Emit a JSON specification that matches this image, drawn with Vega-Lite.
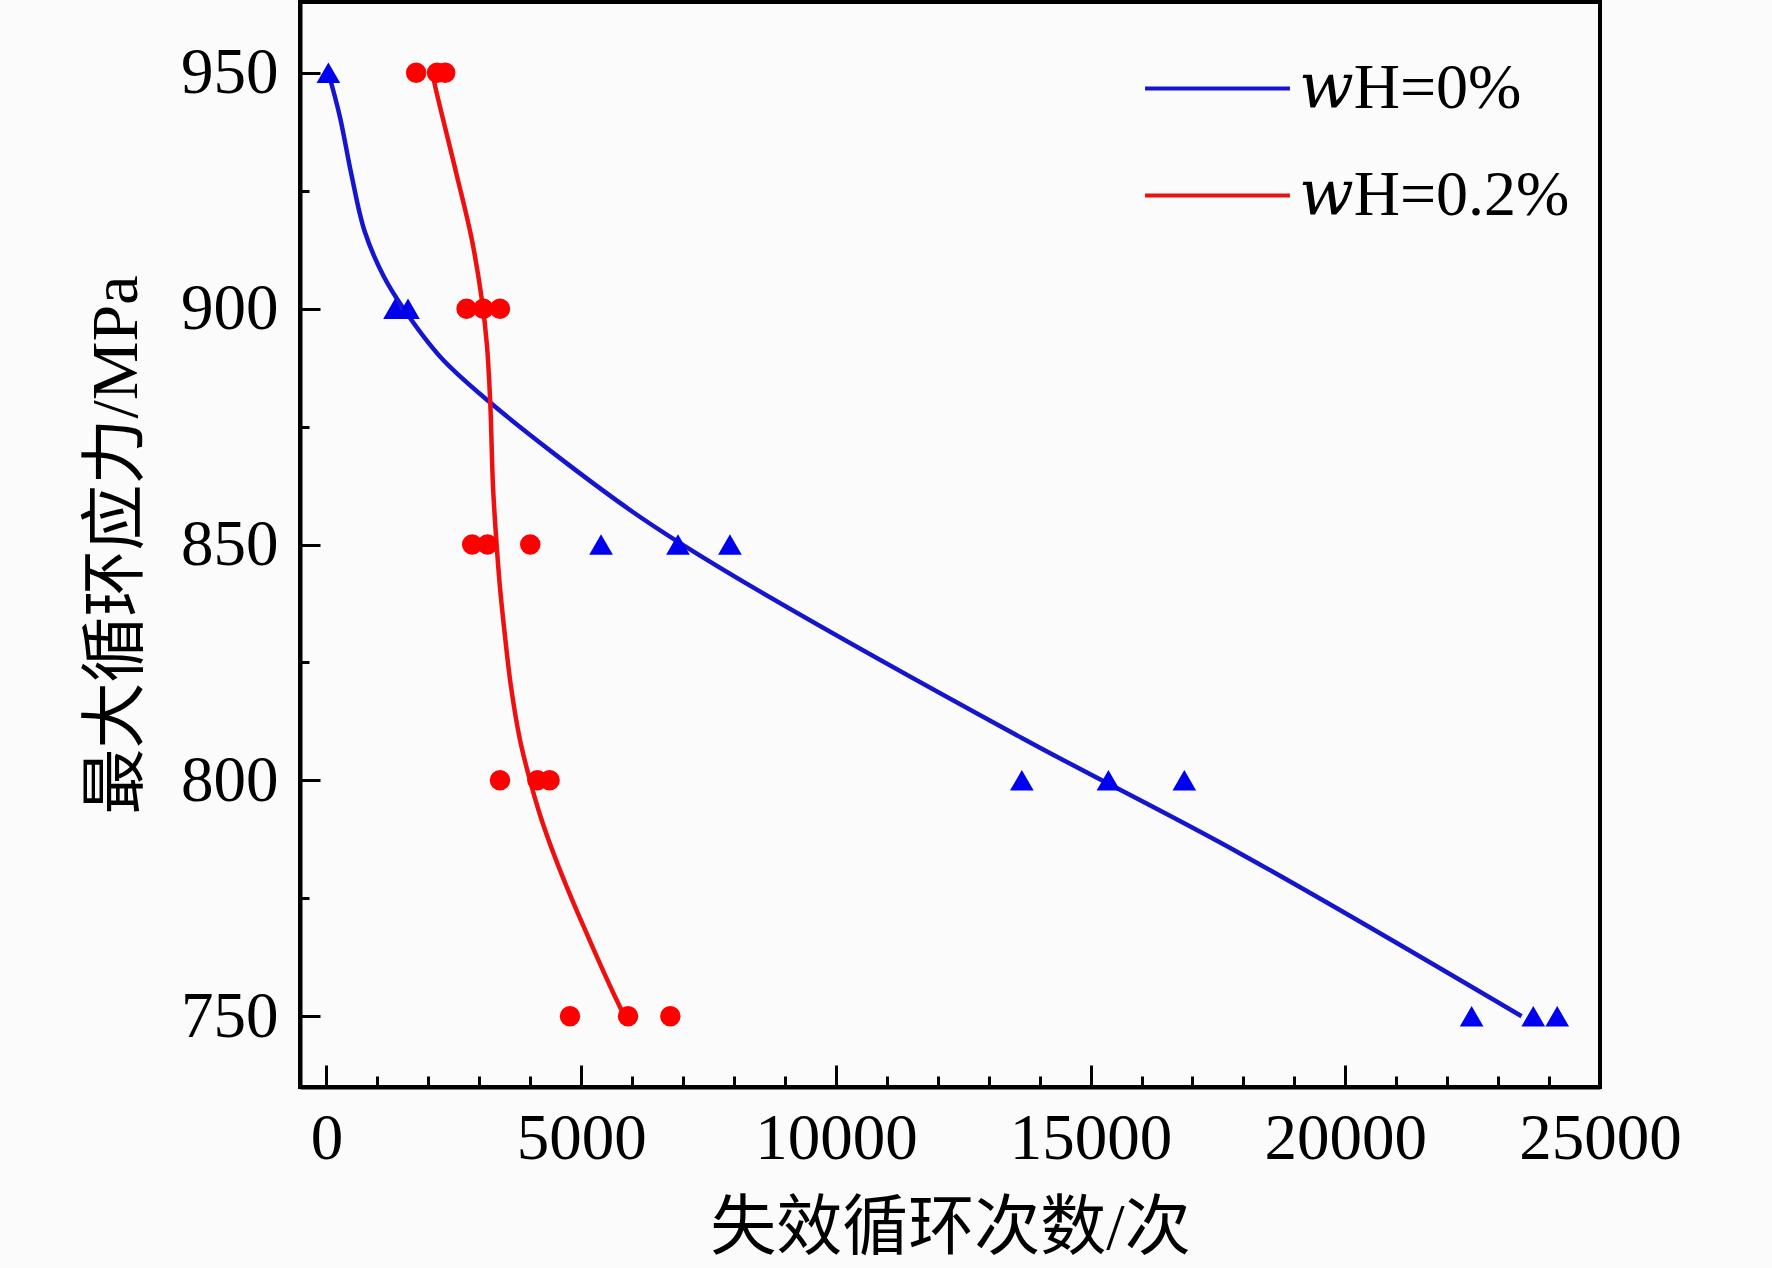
{
  "$schema": "https://vega.github.io/schema/vega-lite/v6.json",
  "autosize": "none",
  "width": 1300,
  "height": 1085,
  "padding": {"left": 300, "top": 2, "right": 172, "bottom": 181},
  "background": "#fbfbfb",
  "config": {
    "view": {"stroke": "#000000", "strokeWidth": 4},
    "axis": {
      "labelFont": "Liberation Serif",
      "labelFontSize": 65,
      "labelColor": "#000000",
      "titleFont": "Liberation Serif, Noto Sans CJK SC",
      "titleFontSize": 66,
      "titleFontWeight": "normal",
      "titleColor": "#000000",
      "domainColor": "#000000",
      "domainWidth": 4,
      "tickColor": "#000000",
      "tickWidth": 3,
      "grid": false
    },
    "legend": {
      "labelFont": "Liberation Serif, DejaVu Serif",
      "labelFontSize": 64,
      "labelColor": "#000000",
      "labelLimit": 0
    }
  },
  "datasets": {
    "points": [
      {"cycles": 37, "stress": 950, "group": "wH=0%"},
      {"cycles": 1345, "stress": 900, "group": "wH=0%"},
      {"cycles": 1600, "stress": 900, "group": "wH=0%"},
      {"cycles": 5390, "stress": 850, "group": "wH=0%"},
      {"cycles": 6900, "stress": 850, "group": "wH=0%"},
      {"cycles": 7920, "stress": 850, "group": "wH=0%"},
      {"cycles": 13650, "stress": 800, "group": "wH=0%"},
      {"cycles": 15350, "stress": 800, "group": "wH=0%"},
      {"cycles": 16840, "stress": 800, "group": "wH=0%"},
      {"cycles": 22480, "stress": 750, "group": "wH=0%"},
      {"cycles": 23690, "stress": 750, "group": "wH=0%"},
      {"cycles": 24160, "stress": 750, "group": "wH=0%"},
      {"cycles": 1760, "stress": 950, "group": "wH=0.2%"},
      {"cycles": 2170, "stress": 950, "group": "wH=0.2%"},
      {"cycles": 2330, "stress": 950, "group": "wH=0.2%"},
      {"cycles": 2750, "stress": 900, "group": "wH=0.2%"},
      {"cycles": 3080, "stress": 900, "group": "wH=0.2%"},
      {"cycles": 3405, "stress": 900, "group": "wH=0.2%"},
      {"cycles": 2860, "stress": 850, "group": "wH=0.2%"},
      {"cycles": 3160, "stress": 850, "group": "wH=0.2%"},
      {"cycles": 4000, "stress": 850, "group": "wH=0.2%"},
      {"cycles": 3405, "stress": 800, "group": "wH=0.2%"},
      {"cycles": 4140, "stress": 800, "group": "wH=0.2%"},
      {"cycles": 4380, "stress": 800, "group": "wH=0.2%"},
      {"cycles": 4780, "stress": 750, "group": "wH=0.2%"},
      {"cycles": 5920, "stress": 750, "group": "wH=0.2%"},
      {"cycles": 6750, "stress": 750, "group": "wH=0.2%"}
    ],
    "curves": [
      {"cycles": 37, "stress": 950, "group": "wH=0%"},
      {"cycles": 263, "stress": 940.7, "group": "wH=0%"},
      {"cycles": 486, "stress": 928.6, "group": "wH=0%"},
      {"cycles": 749, "stress": 916.4, "group": "wH=0%"},
      {"cycles": 1125, "stress": 906.8, "group": "wH=0%"},
      {"cycles": 1500, "stress": 900.2, "group": "wH=0%"},
      {"cycles": 2250, "stress": 889.6, "group": "wH=0%"},
      {"cycles": 3190, "stress": 880.3, "group": "wH=0%"},
      {"cycles": 4500, "stress": 869, "group": "wH=0%"},
      {"cycles": 6000, "stress": 857, "group": "wH=0%"},
      {"cycles": 6940, "stress": 850.3, "group": "wH=0%"},
      {"cycles": 8550, "stress": 839.8, "group": "wH=0%"},
      {"cycles": 13650, "stress": 809, "group": "wH=0%"},
      {"cycles": 17970, "stress": 784.3, "group": "wH=0%"},
      {"cycles": 23460, "stress": 750, "group": "wH=0%"},
      {"cycles": 2080, "stress": 950, "group": "wH=0.2%"},
      {"cycles": 2140, "stress": 946.8, "group": "wH=0.2%"},
      {"cycles": 2550, "stress": 928.6, "group": "wH=0.2%"},
      {"cycles": 2850, "stress": 914.8, "group": "wH=0.2%"},
      {"cycles": 3050, "stress": 901.9, "group": "wH=0.2%"},
      {"cycles": 3150, "stress": 892.2, "group": "wH=0.2%"},
      {"cycles": 3215, "stress": 880, "group": "wH=0.2%"},
      {"cycles": 3270, "stress": 862, "group": "wH=0.2%"},
      {"cycles": 3340, "stress": 850, "group": "wH=0.2%"},
      {"cycles": 3405, "stress": 841, "group": "wH=0.2%"},
      {"cycles": 3500, "stress": 831, "group": "wH=0.2%"},
      {"cycles": 3620, "stress": 820, "group": "wH=0.2%"},
      {"cycles": 3800, "stress": 808.5, "group": "wH=0.2%"},
      {"cycles": 3995, "stress": 800, "group": "wH=0.2%"},
      {"cycles": 4200, "stress": 792.4, "group": "wH=0.2%"},
      {"cycles": 4440, "stress": 785, "group": "wH=0.2%"},
      {"cycles": 4710, "stress": 777.6, "group": "wH=0.2%"},
      {"cycles": 5000, "stress": 770.2, "group": "wH=0.2%"},
      {"cycles": 5300, "stress": 762.8, "group": "wH=0.2%"},
      {"cycles": 5610, "stress": 755.4, "group": "wH=0.2%"},
      {"cycles": 5850, "stress": 750, "group": "wH=0.2%"}
    ]
  },
  "encoding": {
    "x": {
      "field": "cycles",
      "type": "quantitative",
      "scale": {"domain": [-520, 25000], "nice": false, "zero": false},
      "axis": {
        "title": "失效循环次数/次",
        "values": [0,1000,2000,3000,4000,5000,6000,7000,8000,9000,10000,11000,12000,13000,14000,15000,16000,17000,18000,19000,20000,21000,22000,23000,24000,25000],
        "labelExpr": "datum.value % 5000 === 0 ? format(datum.value, 'd') : ''",
        "tickSize": {"condition": {"test": "datum.value % 5000 === 0", "value": -22}, "value": -11},
        "labelPadding": 42,
        "titlePadding": 14,
        "labelFlush": false,
        "labelOverlap": false
      }
    },
    "y": {
      "field": "stress",
      "type": "quantitative",
      "scale": {"domain": [735, 965], "nice": false, "zero": false},
      "axis": {
        "title": "最大循环应力/MPa",
        "values": [750,775,800,825,850,875,900,925,950],
        "labelExpr": "datum.value % 50 === 0 ? datum.label : ''",
        "tickSize": {"condition": {"test": "datum.value % 50 === 0", "value": -20}, "value": -9},
        "labelPadding": 42,
        "titlePadding": 30,
        "labelFlush": false,
        "labelOverlap": false
      }
    }
  },
  "layer": [
    {
      "data": {"name": "curves"},
      "mark": {"type": "line", "interpolate": "catmull-rom", "strokeWidth": 4.5},
      "encoding": {
        "color": {
          "field": "group",
          "type": "nominal",
          "scale": {"domain": ["wH=0%", "wH=0.2%"], "range": ["#1515d0", "#ee1010"]},
          "legend": {
            "title": null,
            "orient": "none",
            "legendX": 843,
            "legendY": 12,
            "padding": 0,
            "symbolType": "stroke",
            "symbolSize": 21000,
            "symbolStrokeWidth": 4,
            "rowPadding": -60,
            "labelOffset": 7,
            "labelExpr": "replace(datum.label, 'w', '𝑤')"
          }
        }
      }
    },
    {
      "data": {"name": "points"},
      "transform": [{"filter": "datum.group === 'wH=0%'"}],
      "mark": {"type": "point", "shape": "triangle-up", "filled": true, "color": "#0000f0", "opacity": 1, "size": 560}
    },
    {
      "data": {"name": "points"},
      "transform": [{"filter": "datum.group === 'wH=0.2%'"}],
      "mark": {"type": "point", "shape": "circle", "filled": true, "color": "#ff0000", "opacity": 1, "size": 420}
    }
  ]
}
